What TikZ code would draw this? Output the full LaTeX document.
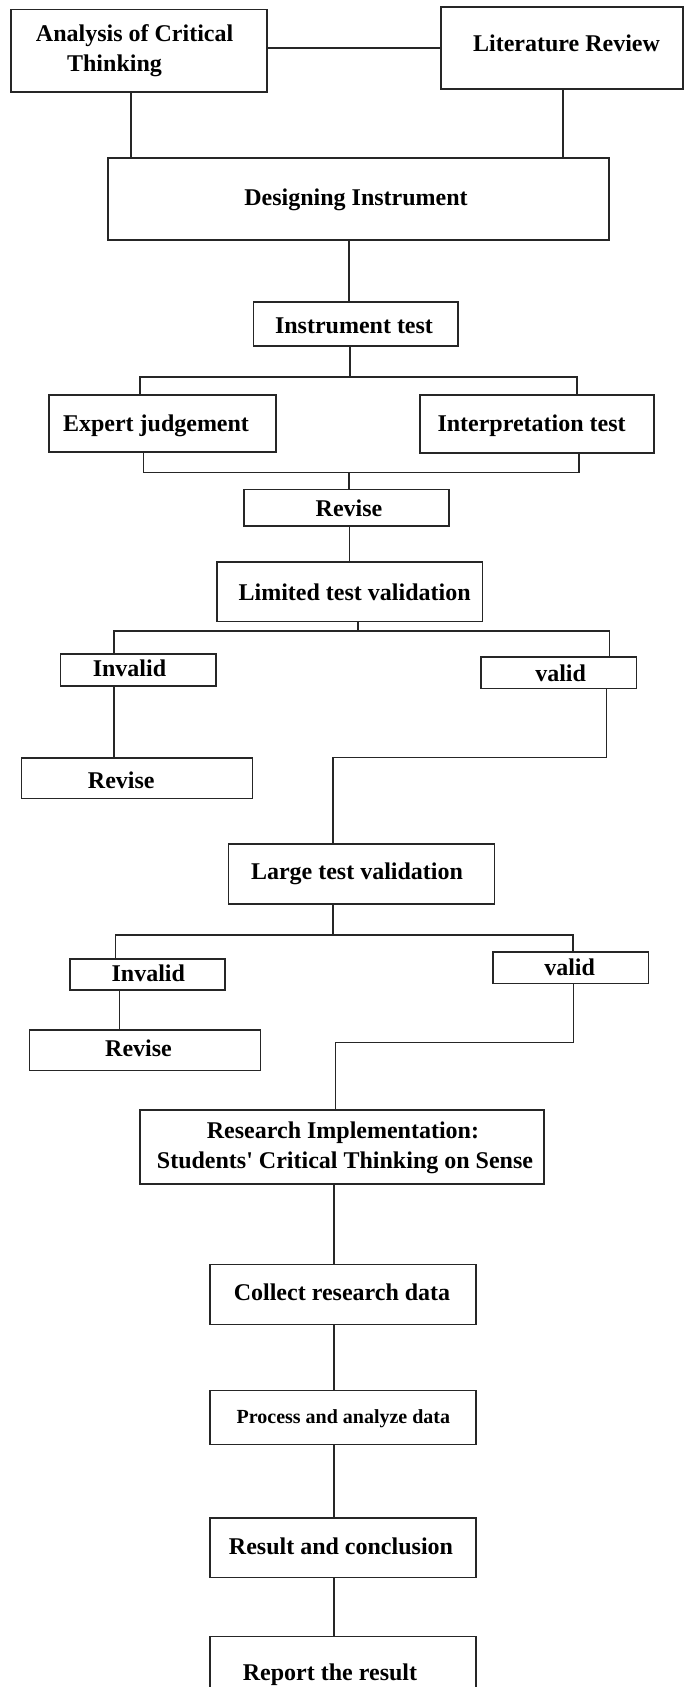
\documentclass[tikz,border=0pt]{standalone}
\usepackage{fontspec}
\setmainfont{Liberation Serif}[Ligatures=TeXOff]
\newcommand\mybox[5]{\node[box, minimum width={#4-#2}, minimum height={#5-#3}] (#1) at ({(#2+#4)/2},{(#3+#5)/2}) {};}
\begin{document}
\begin{tikzpicture}[x=1pt,y=-1pt,
  box/.style={draw=black!85, line width=1.4pt, inner sep=0pt, outer sep=0pt},
  txt/.style={inner sep=0pt, yshift=-6pt, font=\bfseries\fontsize{24}{28}\selectfont, text height=0.68em, text depth=0.2em},
  small/.style={txt, font=\bfseries\fontsize{20}{24}\selectfont},
  ln/.style={draw=black!85, line width=1.4pt}]
\useasboundingbox (0,0) rectangle (684,1687);
\fill[white] (0,0) rectangle (684,1687);
\clip (0,0) rectangle (684,1687);
% boxes
\mybox{A}{11}{9.5}{267}{92}
\mybox{LR}{441}{7}{683}{89}
\mybox{D}{108}{158}{609}{240}
\mybox{IT}{253.5}{302}{458}{346}
\mybox{EJ}{49}{395}{276}{452}
\mybox{IP}{420}{395}{654}{453}
\mybox{RA}{244}{489.5}{449}{526}
\mybox{LTV}{217}{562}{482.5}{621.5}
\mybox{INA}{60.6}{654}{216}{686}
\mybox{VA}{481}{657}{636.6}{688.3}
\mybox{RB}{21.4}{758}{252.6}{798.7}
\mybox{LGV}{228.6}{844}{494.3}{904}
\mybox{INB}{69.8}{959}{225}{990}
\mybox{VB}{493}{952}{648.3}{983.3}
\mybox{RC}{29.2}{1030}{260.5}{1070.7}
\mybox{RI}{140}{1110}{544}{1184}
\mybox{CRD}{210}{1264.3}{476}{1324.3}
\mybox{PAD}{210}{1390.5}{476}{1444.7}
\mybox{RES}{210}{1518}{476}{1577.5}
\mybox{REP}{210}{1636.3}{476}{1720}
% texts
\node[txt] (A-t1) at (134.6,33) {Analysis of Critical};
\node[txt] (A-t2) at (114.5,63) {Thinking};
\node[txt] (LR-t) at (566.5,43) {Literature Review};
\node[txt] (D-t) at (356,197) {Designing Instrument};
\node[txt] (IT-t) at (354,325) {Instrument test};
\node[txt] (EJ-t) at (156,423) {Expert judgement};
\node[txt] (IP-t) at (531.6,423) {Interpretation test};
\node[txt] (RA-t) at (349,508) {Revise};
\node[txt] (LTV-t) at (354.6,592) {Limited test validation};
\node[txt] (INA-t) at (129.5,668) {Invalid};
\node[txt] (VA-t) at (560.6,673) {valid};
\node[txt] (RB-t) at (121.3,780) {Revise};
\node[txt] (LGV-t) at (357,871) {Large test validation};
\node[txt] (INB-t) at (148.3,973) {Invalid};
\node[txt] (VB-t) at (569.6,967) {valid};
\node[txt] (RC-t) at (138.5,1048) {Revise};
\node[txt] (RI-t1) at (343,1129.6) {Research Implementation:};
\node[txt] (RI-t2) at (345,1160) {Students' Critical Thinking on Sense};
\node[txt] (CRD-t) at (342,1292) {Collect research data};
\node[small] (PAD-t) at (343.4,1415) {Process and analyze data};
\node[txt] (RES-t) at (341,1545.7) {Result and conclusion};
\node[txt] (REP-t) at (330,1672) {Report the result};
% junctions
\coordinate (b1) at (350,377);
\coordinate (b2) at (349,472.5);
\coordinate (b3) at (358,631);
\coordinate (e1) at (606.5,757.7);
\coordinate (b4) at (333,935);
\coordinate (e2) at (573.7,1042.7);
% connectors
\draw[ln] (A.east |- LR.west) -- (LR.west);
\draw[ln] (131,0 |- A.south) -- (131,0 |- D.north);
\draw[ln] (563,0 |- LR.south) -- (563,0 |- D.north);
\draw[ln] (349,0 |- D.south) -- (349,0 |- IT.north);
\draw[ln] (b1 |- IT.south) -- (b1);
\draw[ln] (140,0 |- EJ.north) -- (140,0 |- b1) -- (577,0 |- b1) -- (577,0 |- IP.north);
\draw[ln] (143.5,0 |- EJ.south) -- (143.5,0 |- b2) -- (579,0 |- b2) -- (579,0 |- IP.south);
\draw[ln] (b2) -- (b2 |- RA.north);
\draw[ln] (349.5,0 |- RA.south) -- (349.5,0 |- LTV.north);
\draw[ln] (b3 |- LTV.south) -- (b3);
\draw[ln] (114,0 |- INA.north) -- (114,0 |- b3) -- (609.5,0 |- b3) -- (609.5,0 |- VA.north);
\draw[ln] (114,0 |- INA.south) -- (114,0 |- RB.north);
\draw[ln] (e1 |- VA.south) -- (e1) -- (333,0 |- e1) -- (333,0 |- LGV.north);
\draw[ln] (b4 |- LGV.south) -- (b4);
\draw[ln] (115.6,0 |- INB.north) -- (115.6,0 |- b4) -- (573,0 |- b4) -- (573,0 |- VB.north);
\draw[ln] (119.5,0 |- INB.south) -- (119.5,0 |- RC.north);
\draw[ln] (e2 |- VB.south) -- (e2) -- (335.5,0 |- e2) -- (335.5,0 |- RI.north);
\draw[ln] (334,0 |- RI.south) -- (334,0 |- CRD.north);
\draw[ln] (334,0 |- CRD.south) -- (334,0 |- PAD.north);
\draw[ln] (334,0 |- PAD.south) -- (334,0 |- RES.north);
\draw[ln] (334,0 |- RES.south) -- (334,0 |- REP.north);
\end{tikzpicture}
\end{document}
